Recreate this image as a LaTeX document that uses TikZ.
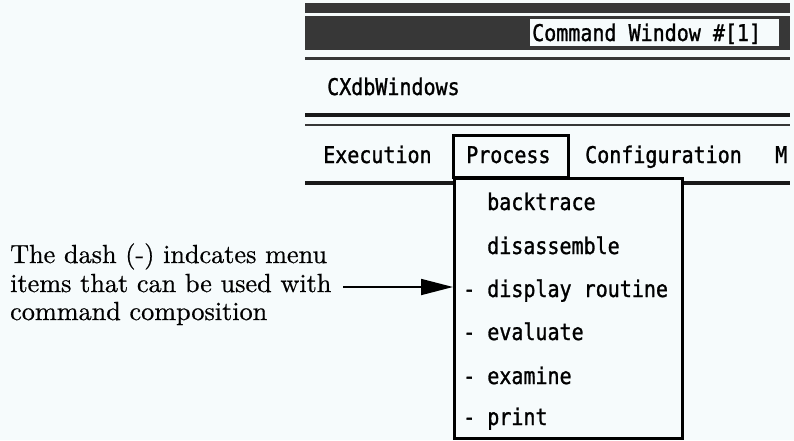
\documentclass[tikz,border=0pt]{standalone}
\usepackage{fontspec}
\newfontfamily\uimono[FakeStretch=0.87,FakeBold=1.2]{DejaVu Sans Mono}
\newfontfamily\notefont[Extension=.otf,FakeBold=0.6]{lmroman10-regular}
\usetikzlibrary{arrows.meta}
\definecolor{bg}{RGB}{246,251,252}
\definecolor{stip}{RGB}{55,55,55}
\begin{document}
\begin{tikzpicture}[x=1pt,y=-1pt,
  ui/.style={font=\uimono\fontsize{23}{26}\selectfont, inner sep=0pt, anchor=base west},
  note/.style={font=\notefont\fontsize{26.2}{28.5}\selectfont, inner sep=0pt, anchor=base west},
  band/.style={fill=stip},
  barline/.style={line width=4pt, black!90}]
\useasboundingbox (0,0) rectangle (794,440);
\fill[bg] (0,0) rectangle (794,440);
% title bars
\fill[band] (305,3) rectangle (790,13);
\fill[band] (305,16) rectangle (790,50);
\fill[bg] (530,19) rectangle (779,46);
\node[ui] (title) at (532,41) {Command Window \#[1]};
\draw[line width=3pt, stip] (305,58.5) -- (790,58.5);
% application name
\node[ui] (app) at (327,95) {CXdbWindows};
\draw[barline] (305,115) -- (790,115);
\draw[line width=2.5pt, stip] (305,125) -- (790,125);
% menu bar
\node[ui] (m1) at (323,163) {Execution};
\node[ui] (m2) at (466,163) {Process};
\node[ui] (m3) at (585,163) {Configuration};
\node[ui] (m4) at (775,163) {M};
\draw[line width=3pt] (453,135) rectangle (568,177);
\draw[barline] (305,183) -- (453,183);
\draw[barline] (682,183) -- (790,183);
% drop-down menu
\node[draw, line width=2.5pt, minimum width=228pt, minimum height=260pt,
      anchor=north west, inner sep=0pt] (drop) at (453,177) {};
\node[ui] (i1) at (487,210) {backtrace};
\node[ui] (i2) at (487,254) {disassemble};
\node[ui] (i3) at (463,297) {- display routine};
\node[ui] (i4) at (463,340) {- evaluate};
\node[ui] (i5) at (463,384) {- examine};
\node[ui] (i6) at (463,425) {- print};
% annotation
\node[note] (n1) at (10,263) {The dash (-) indcates menu};
\node[note] (n2) at (10,292) {items that can be used with};
\node[note] (n3) at (10,320) {command composition};
\coordinate (arrstart) at (343,287);
\draw[line width=1.8pt, -{Triangle[length=32pt,width=16pt]}]
  (arrstart) -- (arrstart -| drop.west);
\end{tikzpicture}
\end{document}
